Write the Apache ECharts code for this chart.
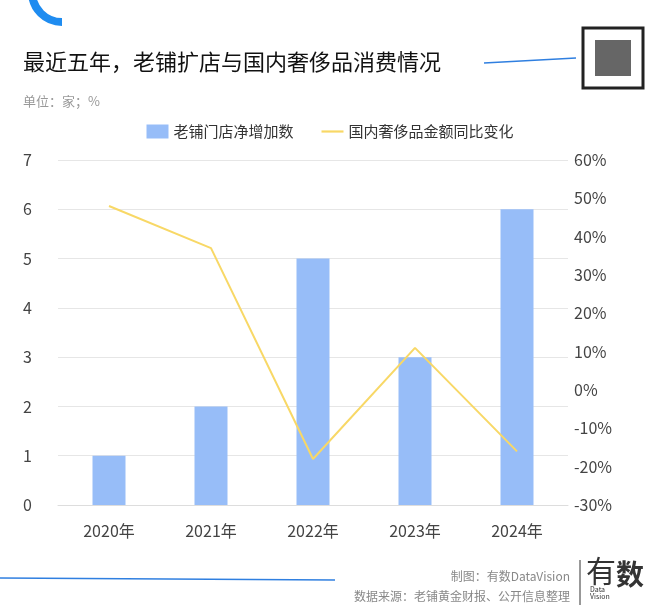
<!DOCTYPE html>
<html><head><meta charset="utf-8">
<script src="https://cdn.jsdelivr.net/npm/echarts@6/dist/echarts.min.js"></script>
<style>body{margin:0}#c{width:660px;height:612px}</style></head>
<body><div id="c"></div>
<script>
const categories=['2020年','2021年','2022年','2023年','2024年'];
const storeNet=[1,2,5,3,6];
const luxuryYoY=[48,37,-18,11,-16];
const leftTicks=[0,7,1];
const rightTicks=[-30,60,10];
const ff='"Noto Sans CJK SC", sans-serif';
const chart=echarts.init(document.getElementById('c'));
chart.setOption({
  backgroundColor:'#fff',
  textStyle:{fontFamily:ff},
  title:[
    {text:'最近五年，老铺扩店与国内奢侈品消费情况',left:18,top:46,textStyle:{fontSize:22,fontWeight:'normal',color:'#111',fontFamily:ff}},
    {text:'单位：家；%',left:18,top:90,textStyle:{fontSize:13,fontWeight:'normal',color:'#999',fontFamily:ff}}
  ],
  legend:{top:119,left:'center',itemGap:28,textStyle:{fontSize:15,color:'#333'},
    data:[{name:'老铺门店净增加数',icon:'rect'},{name:'国内奢侈品金额同比变化',icon:'path://M0,0H30V3H0Z'}],itemWidth:22,itemHeight:14},
  grid:{left:58,right:92,top:160,bottom:107},
  xAxis:{type:'category',data:categories,axisTick:{show:false},axisLine:{lineStyle:{color:'#ddd'}},
    axisLabel:{fontSize:16,color:'#444',margin:18}},
  yAxis:[
    {type:'value',min:leftTicks[0],max:leftTicks[1],interval:leftTicks[2],axisLabel:{fontSize:16,color:'#444',margin:26},
     splitLine:{lineStyle:{color:'#e6e6e6'}}},
    {type:'value',min:rightTicks[0],max:rightTicks[1],interval:rightTicks[2],axisLabel:{fontSize:16,color:'#444',formatter:'{value}%',margin:6},
     splitLine:{show:false}}
  ],
  series:[
    {name:'老铺门店净增加数',type:'bar',data:storeNet,barWidth:33,itemStyle:{color:'#97bdf8'}},
    {name:'国内奢侈品金额同比变化',type:'line',yAxisIndex:1,data:luxuryYoY,symbol:'none',lineStyle:{color:'#f8d866',width:2},itemStyle:{color:'#f8d866'}}
  ],
  graphic:[
    {type:'arc',shape:{cx:62,cy:-8,r:30,startAngle:Math.PI*0.5,endAngle:Math.PI*1.0},style:{stroke:'#1f8cf0',lineWidth:8,fill:null}},
    {type:'line',shape:{x1:484,y1:63,x2:576,y2:58},style:{stroke:'#2f7fe0',lineWidth:1.5}},
    {type:'rect',shape:{x:583,y:28,width:60,height:60},style:{fill:'#fff',stroke:'#222',lineWidth:3}},
    {type:'rect',shape:{x:595,y:40,width:36,height:36},style:{fill:'#666'}},
    {type:'line',shape:{x1:0,y1:578,x2:335,y2:580},style:{stroke:'#2f7fe0',lineWidth:1.5}},
    {type:'text',style:{text:'制图：有数DataVision',x:570,y:570,textAlign:'right',fill:'#888',fontSize:12,fontFamily:ff}},
    {type:'text',style:{text:'数据来源：老铺黄金财报、公开信息整理',x:570,y:590,textAlign:'right',fill:'#888',fontSize:12,fontFamily:ff}},
    {type:'line',shape:{x1:580,y1:560,x2:580,y2:605},style:{stroke:'#333',lineWidth:1}},
    {type:'text',style:{text:'有',x:586,y:556,fill:'#333',fontSize:30,fontFamily:ff}},
    {type:'text',style:{text:'数',x:616,y:560,fill:'#333',fontSize:28,fontWeight:'bold',fontFamily:ff}},
    {type:'text',style:{text:'Data\nVision',x:590,y:586,fill:'#333',fontSize:7,fontFamily:ff}}
  ]
});
</script></body></html>
